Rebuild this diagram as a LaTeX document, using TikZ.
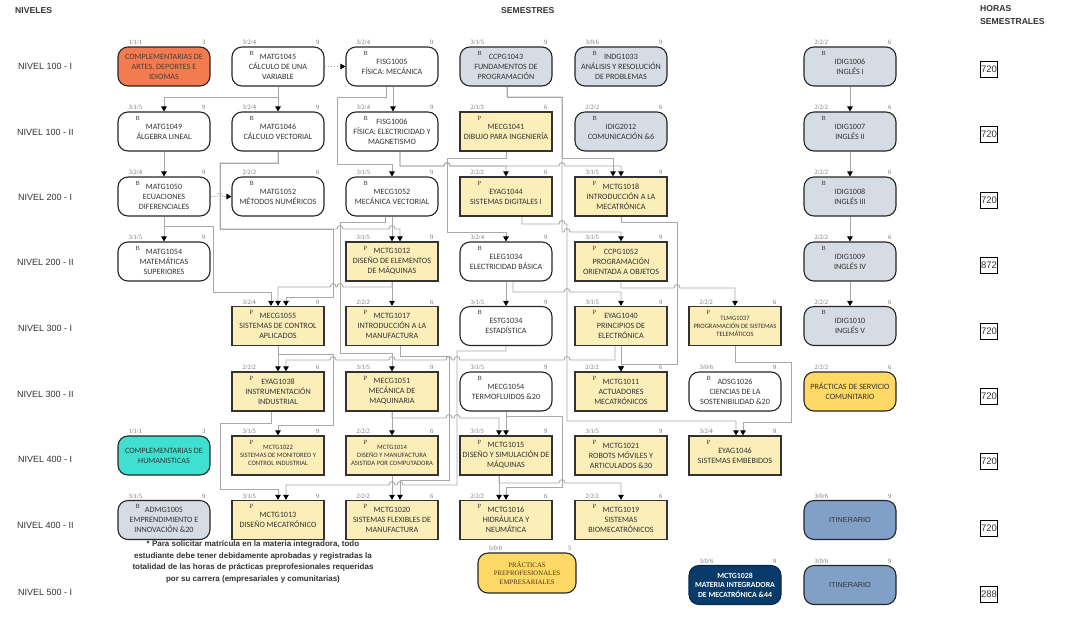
\documentclass[tikz,border=0pt]{standalone}
\usepackage{fontspec}
\setmainfont{Carlito}
\newfontfamily\arialf{Liberation Sans}
\newfontfamily\timesf{Liberation Serif}
\usetikzlibrary{arrows.meta,calc}
\pgfdeclarelayer{bg}
\pgfsetlayers{bg,main}
\definecolor{gb}{HTML}{D6DCE4}
\definecolor{yel}{HTML}{FBEEB8}
\definecolor{org}{HTML}{F47B50}
\definecolor{tur}{HTML}{40E0D0}
\definecolor{lor}{HTML}{FFD966}
\definecolor{navy}{HTML}{083A6A}
\definecolor{steel}{HTML}{80A0C8}
\definecolor{txt}{HTML}{333333}
\definecolor{lin}{HTML}{A8A8A8}
\newcommand\crs[8]{%
  \node[#4] (#1) at (#2,#3) {#8};
  \node[lbl,anchor=base west] (#1-a) at ($(#1.north west)+(11,-1.5)$) {#5};
  \node[lbl,anchor=base east] (#1-b) at ($(#1.north east)+(-5,-1.5)$) {#6};
  \if\relax\detokenize{#7}\relax\else
  \node[tp,anchor=base west] (#1-c) at ($(#1.north west)+(18,9)$) {#7};\fi
}
\begin{document}
\begin{tikzpicture}[x=1pt,y=-1pt,
  conn/.style={draw=lin,line width=0.9pt,-{Triangle[length=5pt,width=5.5pt,color=black]}},
  dconn/.style={conn,dash pattern=on 1.4pt off 1.6pt},
  hr/.style n args={2}{insert path={-- (#1-3,#2) .. controls (#1-3,#2-4.5) and (#1+3,#2-4.5) .. (#1+3,#2)}},
  hrl/.style n args={2}{insert path={-- (#1+3,#2) .. controls (#1+3,#2-4.5) and (#1-3,#2-4.5) .. (#1-3,#2)}},
  box/.style={minimum width=92pt,minimum height=39pt,inner sep=1pt,align=center,text=txt,font=\fontsize{8.1}{9.9}\selectfont},
  sm/.style={font=\fontsize{6.6}{8}\selectfont},
  wbox/.style={box,rounded corners=10pt,draw=black!85,line width=1.1pt,fill=white},
  gbox/.style={wbox,fill=gb},
  ybox/.style={box,draw=black!80,line width=1.3pt,fill=yel},
  obox/.style={wbox,fill=org,text=black!75},
  tbox/.style={wbox,fill=tur},
  lobox/.style={wbox,fill=lor},
  nbox/.style={wbox,fill=navy,draw=navy!70!black,text=white,font=\bfseries\fontsize{7.8}{9.6}\selectfont},
  sbox/.style={wbox,fill=steel,font=\arialf\fontsize{7.3}{9}\selectfont},
  lbl/.style={inner sep=0,font=\timesf\fontsize{6.5}{7}\selectfont,text=black!55},
  tp/.style={inner sep=0,font=\timesf\fontsize{6.3}{7}\selectfont,text=black!80},
  lev/.style={inner sep=0,anchor=west,font=\arialf\fontsize{9}{11}\selectfont,text=black!80},
  hdr/.style={inner sep=0,anchor=west,font=\arialf\bfseries\fontsize{8.6}{13}\selectfont,text=black!80},
  hrs/.style={draw=black,line width=0.9pt,minimum width=16.5pt,minimum height=16pt,inner sep=0,font=\arialf\fontsize{9.5}{10}\selectfont,text=black!80}
]
\useasboundingbox (0,0) rectangle (1076,619);
\begin{pgfonlayer}{bg}
\fill[white] (0,0) rectangle (1076,619);
\end{pgfonlayer}
% headers
\node[hdr] (hN) at (15,11) {NIVELES};
\node[hdr] (hS) at (501,11) {SEMESTRES};
\node[hdr,align=left,anchor=north west] (hH) at (980,5) {HORAS\\SEMESTRALES};
% levels
\node[lev] (l1) at (18,66) {NIVEL 100 - I};
\node[lev] (l2) at (17,132) {NIVEL 100 - II};
\node[lev] (l3) at (18,197) {NIVEL 200 - I};
\node[lev] (l4) at (17,262) {NIVEL 200 - II};
\node[lev] (l5) at (18,328) {NIVEL 300 - I};
\node[lev] (l6) at (17,394) {NIVEL 300 - II};
\node[lev] (l7) at (18,459) {NIVEL 400 - I};
\node[lev] (l8) at (17,525) {NIVEL 400 - II};
\node[lev] (l9) at (18,592) {NIVEL 500 - I};
% hours
\node[hrs] (h1) at (989,69) {720};
\node[hrs] (h2) at (989,134) {720};
\node[hrs] (h3) at (989,200) {720};
\node[hrs] (h4) at (989,265) {872};
\node[hrs] (h5) at (989,331) {720};
\node[hrs] (h6) at (989,396) {720};
\node[hrs] (h7) at (989,461) {720};
\node[hrs] (h8) at (989,528) {720};
\node[hrs] (h9) at (989,594) {288};
% row 1
\crs{a1}{164}{66.5}{obox}{1/1/1}{3}{}{COMPLEMENTARIAS DE\\ARTES, DEPORTES E\\IDIOMAS}
\crs{m1045}{278}{66.5}{wbox}{3/2/4}{9}{B}{MATG1045\\CÁLCULO DE UNA\\VARIABLE}
\crs{f1005}{392}{66.5}{wbox}{3/2/4}{9}{B}{FISG1005\\FÍSICA: MECÁNICA}
\crs{c1043}{506}{66.5}{gbox}{3/1/5}{9}{B}{CCPG1043\\FUNDAMENTOS DE\\PROGRAMACIÓN}
\crs{i1033}{621}{66.5}{gbox}{3/0/6}{9}{B}{INDG1033\\ANÁLISIS Y RESOLUCIÓN\\DE PROBLEMAS}
\crs{i1006}{850}{66.5}{gbox}{2/2/2}{6}{B}{IDIG1006\\INGLÉS I}
% row 2
\crs{m1049}{164}{131.5}{wbox}{3/1/5}{9}{B}{MATG1049\\ÁLGEBRA LINEAL}
\crs{m1046}{278}{131.5}{wbox}{3/2/4}{9}{B}{MATG1046\\CÁLCULO VECTORIAL}
\crs{f1006}{392}{131.5}{wbox}{3/2/4}{9}{B}{FISG1006\\FÍSICA: ELECTRICIDAD Y\\MAGNETISMO}
\crs{me1041}{506}{131.5}{ybox}{2/1/3}{6}{P}{MECG1041\\DIBUJO PARA INGENIERÍA}
\crs{i2012}{621}{131.5}{gbox}{2/2/2}{6}{B}{IDIG2012\\COMUNICACIÓN \&6}
\crs{i1007}{850}{131.5}{gbox}{2/2/2}{6}{B}{IDIG1007\\INGLÉS II}
% row 3
\crs{m1050}{164}{196.5}{wbox}{3/2/4}{9}{B}{MATG1050\\ECUACIONES\\DIFERENCIALES}
\crs{m1052}{278}{196.5}{wbox}{2/2/2}{6}{B}{MATG1052\\MÉTODOS NUMÉRICOS}
\crs{me1052}{392}{196.5}{wbox}{3/1/5}{9}{B}{MECG1052\\MECÁNICA VECTORIAL}
\crs{e1044}{506}{196.5}{ybox}{2/2/2}{6}{P}{EYAG1044\\SISTEMAS DIGITALES I}
\crs{t1018}{621}{196.5}{ybox}{3/1/5}{9}{P}{MCTG1018\\INTRODUCCIÓN A LA\\MECATRÓNICA}
\crs{i1008}{850}{196.5}{gbox}{2/2/2}{6}{B}{IDIG1008\\INGLÉS III}
% row 4
\crs{m1054}{164}{261.5}{wbox}{3/1/5}{9}{B}{MATG1054\\MATEMÁTICAS\\SUPERIORES}
\crs{t1012}{392}{261.5}{ybox}{3/1/5}{9}{P}{MCTG1012\\DISEÑO DE ELEMENTOS\\DE MÁQUINAS}
\crs{el1034}{506}{261.5}{wbox}{3/2/4}{9}{B}{ELEG1034\\ELECTRICIDAD BÁSICA}
\crs{c1052}{621}{261.5}{ybox}{3/1/5}{9}{P}{CCPG1052\\PROGRAMACIÓN\\ORIENTADA A OBJETOS}
\crs{i1009}{850}{261.5}{gbox}{2/2/2}{6}{B}{IDIG1009\\INGLÉS IV}
% row 5
\crs{me1055}{278}{326}{ybox}{3/2/4}{9}{P}{MECG1055\\SISTEMAS DE CONTROL\\APLICADOS}
\crs{t1017}{392}{326}{ybox}{2/2/2}{6}{P}{MCTG1017\\INTRODUCCIÓN A LA\\MANUFACTURA}
\crs{es1034}{506}{326}{wbox}{3/1/5}{9}{B}{ESTG1034\\ESTADÍSTICA}
\crs{e1040}{621}{326}{ybox}{3/1/5}{9}{P}{EYAG1040\\PRINCIPIOS DE\\ELECTRÓNICA}
\crs{tl1037}{735}{326}{ybox,sm}{2/2/2}{6}{P}{TLMG1037\\PROGRAMACIÓN DE SISTEMAS\\TELEMÁTICOS}
\crs{i1010}{850}{326}{gbox}{2/2/2}{6}{B}{IDIG1010\\INGLÉS V}
% row 6
\crs{e1038}{278}{391.5}{ybox}{2/2/2}{6}{P}{EYAG1038\\INSTRUMENTACIÓN\\INDUSTRIAL}
\crs{me1051}{392}{391.5}{ybox}{3/1/5}{9}{P}{MECG1051\\MECÁNICA DE\\MAQUINARIA}
\crs{me1054}{506}{391.5}{wbox}{3/1/5}{9}{B}{MECG1054\\TERMOFLUIDOS \&20}
\crs{t1011}{621}{391.5}{ybox}{2/2/2}{6}{P}{MCTG1011\\ACTUADORES\\MECATRÓNICOS}
\crs{ad1026}{735}{391.5}{wbox}{3/0/6}{9}{B}{ADSG1026\\CIENCIAS DE LA\\SOSTENIBILIDAD \&20}
\crs{ps}{850}{391.5}{lobox}{2/2/2}{6}{}{PRÁCTICAS DE SERVICIO\\COMUNITARIO}
% row 7
\crs{a2}{164}{455.5}{tbox}{1/1/1}{3}{}{COMPLEMENTARIAS DE\\HUMANISTICAS}
\crs{t1022}{278}{455.5}{ybox,sm}{3/1/5}{9}{P}{MCTG1022\\SISTEMAS DE MONITOREO Y\\CONTROL INDUSTRIAL}
\crs{t1014}{392}{455.5}{ybox,sm}{2/2/2}{6}{P}{MCTG1014\\DISEÑO Y MANUFACTURA\\ASISTIDA POR COMPUTADORA}
\crs{t1015}{506}{455.5}{ybox}{3/1/5}{9}{P}{MCTG1015\\DISEÑO Y SIMULACIÓN DE\\MÁQUINAS}
\crs{t1021}{621}{455.5}{ybox}{3/1/5}{9}{P}{MCTG1021\\ROBOTS MÓVILES Y\\ARTICULADOS \&30}
\crs{e1046}{735}{455.5}{ybox}{3/2/4}{9}{P}{EYAG1046\\SISTEMAS EMBEBIDOS}
% row 8
\crs{ad1005}{164}{520}{gbox}{3/1/5}{9}{B}{ADMG1005\\EMPRENDIMIENTO E\\INNOVACIÓN \&20}
\crs{t1013}{278}{520}{ybox}{3/1/5}{9}{P}{MCTG1013\\DISEÑO MECATRÓNICO}
\crs{t1020}{392}{520}{ybox}{2/2/2}{6}{P}{MCTG1020\\SISTEMAS FLEXIBLES DE\\MANUFACTURA}
\crs{t1016}{506}{520}{ybox}{2/2/2}{6}{P}{MCTG1016\\HIDRÁULICA Y\\NEUMÁTICA}
\crs{t1019}{621}{520}{ybox}{2/2/2}{6}{P}{MCTG1019\\SISTEMAS\\BIOMECATRÓNICOS}
\crs{it1}{850}{520}{sbox}{3/0/6}{9}{}{ITINERARIO}
% row 9
\crs{pp}{527}{573}{lobox,minimum width=98pt,minimum height=40pt,text=black!60!brown,font=\timesf\fontsize{6.8}{8.3}\selectfont}{5/0/0}{5}{}{PRÁCTICAS\\PREPROFESIONALES\\EMPRESARIALES}
\crs{t1028}{735}{585}{nbox}{3/0/6}{9}{}{MCTG1028\\MATERIA INTEGRADORA\\DE MECATRÓNICA \&44}
\crs{it2}{850}{585}{sbox}{3/0/6}{9}{}{ITINERARIO}
% footnote
\node[inner sep=0,align=center,font=\arialf\bfseries\fontsize{8}{11.5}\selectfont,text=black!80] (fn) at (253,562)
 {* Para solicitar matrícula en la materia integradora, todo\\estudiante debe tener debidamente aprobadas y registradas la\\totalidad de las horas de prácticas preprofesionales requeridas\\por su carrera (empresariales y comunitarias)};
% connectors
\begin{pgfonlayer}{bg}
% rows 1-2
\draw[conn] (m1045.south) -- ++(0,11) -| (m1049.north);
\draw[conn] (m1045.south) -- (m1046.north);
\draw[dconn] (m1045.east) -- (f1005.west);
\draw[conn] ($(f1005.south)+(1,0)$) -- ($(f1006.north)+(1,0)$);
\draw[conn] ($(f1005.south)+(-6,0)$) -- (386,97) -- (337,97) -- (337,164) -| (me1052.north);
\draw[conn] ($(c1043.south)+(1,0)$) -- (507,97) -- (562,97) -- (562,158) -| ($(t1018.north)+(-8,0)$);
\draw[conn] ($(c1043.south)+(1,0)$) -- (507,97) -- (562,97) -- (562,232) [hr={567}{232}] -| (c1052.north);
\foreach \a/\b in {i1006/i1007,i1007/i1008,i1008/i1009,i1009/i1010}
  \draw[conn] (\a.south) -- (\b.north);
% rows 2-3
\draw[conn] ($(f1006.south)+(8,0)$) -- (400,166) [hr={447}{166}] [hr={562}{166}] -| (t1018.north);
\draw[conn] ($(f1006.south)+(8,0)$) -- (400,166) [hr={447}{166}] -| (e1044.north);
\draw[conn] (me1041.south) -- (506,158) -- (447,158) -- (447,232) -| (el1034.north);
\draw[conn] (m1049.south) -- (m1050.north);
\draw[dconn] (m1050.east) [hr={220}{196.5}] -- (m1052.west);
% rows 3-4
\draw[conn] (m1050.south) -- (m1054.north);
\draw[conn] (m1050.south) -- (164,226) -- (213,226) -- (213,292) -| ($(me1055.north)+(-7,0)$);
\draw[conn] (m1046.south) -- (278,163) -- (220,163) -- (220,229) [hr={340}{229}] [hr={392}{229}] -| ($(t1012.north)+(8,0)$);
\draw[conn] (m1046.south) -- (278,163) -- (220,163) -- (220,229) -- (333,229) -- (333,297) -| ($(me1055.north)+(8,0)$);
\draw[conn] (me1052.south) -- (t1012.north);
\draw[conn] ($(me1052.south)+(-7,0)$) -- (385,222) -- (340,222) -- (340,353) -| (me1051.north);
\draw[conn] ($(e1044.south)+(16,0)$) -- (522,224) [hr={562}{224}] -- (567,224) -- (567,421) -| ($(e1046.north)+(1,0)$);
\draw[conn] (t1018.south) -- (621,222) -- (677,222) -- (677,364) -| (t1011.north);
% rows 4-5
\draw[conn] (t1012.south) -- (t1017.north);
\draw[conn] (t1012.south) -- (392,287) [hrl={340}{287}] [hrl={333}{287}] -| (me1055.north);
\draw[conn] (el1034.south) -- (es1034.north);
\draw[conn] ($(el1034.south)+(7,0)$) -- (513,292) [hr={567}{292}] -| (e1040.north);
\draw[conn] (c1052.south) -- (621,288) [hr={677}{288}] -| (tl1037.north);
% rows 5-6
\draw[conn] (me1055.south) -- (e1038.north);
\draw[conn] (me1055.south) -- (278,354) -- (333,354) -- (333,425) -| (t1022.north);
\draw[conn] ($(e1040.south)+(-6,0)$) -- (615,360) [hrl={567}{360}] [hrl={457}{360}] [hrl={449}{360}] [hrl={392}{360}] [hrl={333}{360}] -| ($(e1038.north)+(8,0)$);
\draw[conn] (e1040.south) -- (t1011.north);
\draw[conn] ($(t1017.south)+(8,0)$) -- (400,356) -- (449,356) -- (449,480) -| ($(t1020.north)+(8,0)$);
\draw[conn] (es1034.south) -- (506,351) -- (457,351) -- (457,485) [hrl={400}{485}] [hrl={392}{485}] -| ($(t1013.north)+(8,0)$);
\draw[conn] (tl1037.south) -- (735,362) -- (791,362) -- (791,422) -| ($(e1046.north)+(8,0)$);
% rows 6-7
\draw[conn] ($(e1038.south)+(-7,0)$) -- (271,423) -- (220,423) -- (220,489) -| (t1013.north);
\draw[conn] (me1051.south) -- (t1014.north);
\draw[conn] (me1051.south) -- (392,418) [hr={449}{418}] [hr={457}{418}] -| ($(t1015.north)+(-7,0)$);
\draw[conn] (me1054.south) -- (t1015.north);
\draw[conn] (me1054.south) -- (506,416) -- (562,416) -- (562,487) -| (t1016.north);
% rows 7-8
\draw[conn] (t1014.south) -- (t1020.north);
\draw[conn] ($(t1015.south)+(-7,0)$) -- ($(t1016.north)+(-7,0)$);
\draw[conn] ($(t1015.south)+(-7,0)$) -- (499,483) [hr={562}{483}] -| (t1019.north);
\end{pgfonlayer}
\end{tikzpicture}
\end{document}
